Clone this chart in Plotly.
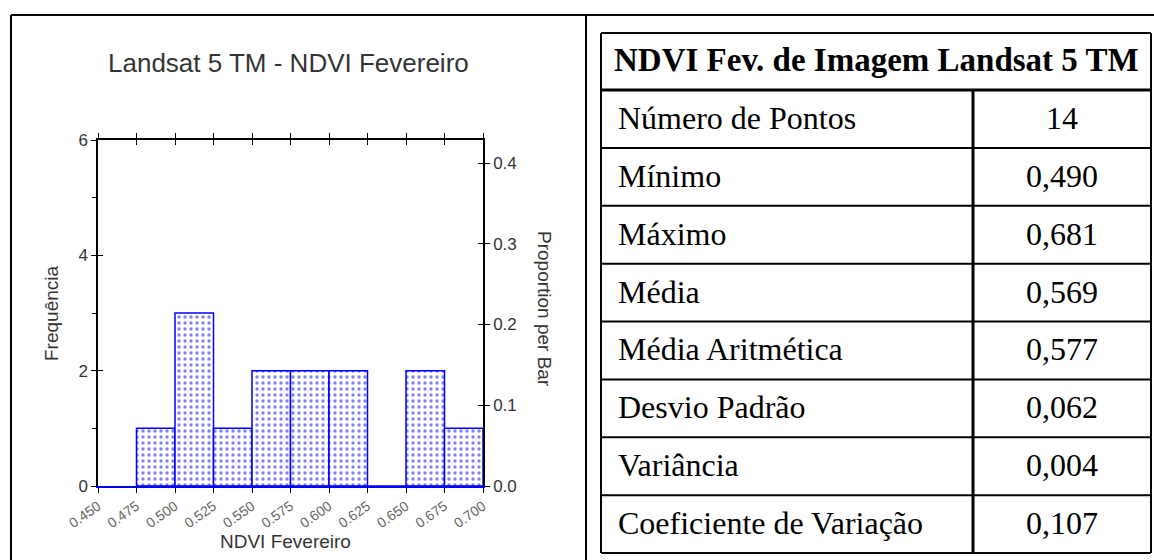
import plotly.graph_objects as go

# histogram data (NDVI Fevereiro, Landsat 5 TM)
bin_starts = [0.475, 0.500, 0.525, 0.550, 0.575, 0.600, 0.625, 0.650, 0.675]
counts = [1, 3, 1, 2, 2, 2, 0, 2, 1]
bin_width = 0.025
n_points = 14

x_ticks = [0.450, 0.475, 0.500, 0.525, 0.550, 0.575, 0.600, 0.625, 0.650, 0.675, 0.700]
x_ticklabels = ["0.450", "0.475", "0.500", "0.525", "0.550", "0.575", "0.600", "0.625", "0.650", "0.675", "0.700"]
y_ticks = [0, 2, 4, 6]
y_minor = [1, 3, 5]
prop_ticks = [0.0, 0.1, 0.2, 0.3, 0.4]
prop_ticklabels = ["0.0", "0.1", "0.2", "0.3", "0.4"]

# statistics table
table_title = "NDVI Fev. de Imagem Landsat 5 TM"
stat_names = ["Número de Pontos", "Mínimo", "Máximo", "Média", "Média Aritmética",
              "Desvio Padrão", "Variância", "Coeficiente de Variação"]
stat_values = ["14", "0,490", "0,681", "0,569", "0,577", "0,062", "0,004", "0,107"]

W, H = 1154, 560


def px(x):
    return x / W


def py(y):
    return 1 - y / H


centers = [b + bin_width / 2 for b in bin_starts]

fig = go.Figure()
fig.add_trace(go.Bar(
    x=centers, y=counts, width=bin_width,
    marker=dict(color="white", line=dict(color="#0000ff", width=1.5),
                pattern=dict(shape=".", fgcolor="#0000ff", bgcolor="white", size=6, solidity=0.25)),
    xaxis="x", yaxis="y", showlegend=False, hoverinfo="x+y",
))
# empty traces so the overlaid frame / tick axes get drawn
for xa, ya in [("x2", "y2"), ("x3", "y3"), ("x", "y4")]:
    fig.add_trace(go.Scatter(x=[], y=[], xaxis=xa, yaxis=ya, showlegend=False, hoverinfo="skip"))

sans = "Liberation Sans, Arial"
x_dom = [px(98), px(483)]
y_dom = [py(486), py(140)]
x_range = [0.45, 0.70]
prop_max = 6 / n_points

common = dict(showgrid=False, zeroline=False, automargin=False, fixedrange=True)

fig.update_layout(
    width=W, height=H,
    margin=dict(l=0, r=0, t=0, b=0, autoexpand=False),
    paper_bgcolor="white", plot_bgcolor="white",
    showlegend=False,
    xaxis=dict(domain=x_dom, range=x_range, anchor="y",
               tickvals=x_ticks, ticktext=x_ticklabels, tickangle=-35,
               ticks="outside", ticklen=5, tickcolor="black",
               showline=True, linecolor="#0000ff", linewidth=1.5,
               tickfont=dict(family=sans, size=14, color="#666"), **common),
    xaxis2=dict(overlaying="x", side="top", anchor="y", range=x_range,
                tickvals=x_ticks, ticks="outside", ticklen=5, tickcolor="black",
                showticklabels=False, showline=True, linecolor="black", linewidth=1.5, **common),
    xaxis3=dict(overlaying="x", side="top", anchor="y", range=x_range,
                tickvals=x_ticks, ticks="inside", ticklen=5, tickcolor="black",
                showticklabels=False, showline=False, **common),
    yaxis=dict(domain=y_dom, range=[0, 6], anchor="x", side="left",
               tickvals=y_ticks, ticks="outside", ticklen=5, tickcolor="black",
               minor=dict(tickvals=y_minor, ticks="outside", ticklen=4, tickcolor="black"),
               showline=True, linecolor="black", linewidth=1.5,
               tickfont=dict(family=sans, size=17, color="#333"), **common),
    yaxis3=dict(overlaying="y", side="left", anchor="x", range=[0, 6],
                tickvals=y_ticks, ticks="inside", ticklen=5, tickcolor="black",
                showticklabels=False, showline=False, **common),
    yaxis2=dict(overlaying="y", side="right", anchor="x", range=[0, prop_max],
                tickvals=prop_ticks, ticktext=prop_ticklabels,
                ticks="outside", ticklen=5, tickcolor="black",
                showline=True, linecolor="black", linewidth=1.5,
                tickfont=dict(family=sans, size=17, color="#333"), **common),
    yaxis4=dict(overlaying="y", side="right", anchor="x", range=[0, prop_max],
                tickvals=prop_ticks, ticks="inside", ticklen=5, tickcolor="black",
                showticklabels=False, showline=False, **common),
)

chart_font = dict(family=sans, color="#333")
annotations = [
    dict(text="Landsat 5 TM - NDVI Fevereiro", x=px(288), y=py(63),
         font=dict(size=26, **chart_font)),
    dict(text="NDVI Fevereiro", x=px(285), y=py(541), font=dict(size=19, **chart_font)),
    dict(text="Frequência", x=px(51), y=py(314), textangle=-90, font=dict(size=19, **chart_font)),
    dict(text="Proportion per Bar", x=px(545), y=py(309), textangle=90, font=dict(size=19, **chart_font)),
]

# table geometry
t_left, t_right, t_mid = 601, 1151, 973
t_top, head_bot, t_bot = 33, 90, 553
row_h = (t_bot - head_bot) / len(stat_names)
serif = "Liberation Serif, Times New Roman"

annotations.append(dict(text="<b>" + table_title + "</b>", x=px((t_left + t_right) / 2),
                        y=py((t_top + head_bot) / 2 - 1),
                        font=dict(family=serif, size=33, color="black")))
for i, (name, val) in enumerate(zip(stat_names, stat_values)):
    yc = head_bot + row_h * (i + 0.5) - 1
    annotations.append(dict(text=name, x=px(t_left + 15), y=py(yc), xanchor="left",
                            font=dict(family=serif, size=32, color="black")))
    annotations.append(dict(text=val, x=px((t_mid + t_right) / 2), y=py(yc),
                            font=dict(family=serif, size=32, color="black")))

for a in annotations:
    a.update(xref="paper", yref="paper", showarrow=False)
    a.setdefault("xanchor", "center")
    a.setdefault("yanchor", "middle")
fig.update_layout(annotations=annotations)


def line(x0, y0, x1, y1, w=2):
    return dict(type="line", xref="paper", yref="paper",
                x0=px(x0), y0=py(y0), x1=px(x1), y1=py(y1),
                line=dict(color="black", width=w))


shapes = [
    line(11, 15, W, 15),
    line(11, 15, 11, H + 5),
    line(586, 15, 586, H + 5),
    line(t_left, t_top, t_right, t_top),
    line(t_left, t_top, t_left, t_bot),
    line(t_right, t_top, t_right, t_bot),
    line(t_left, head_bot, t_right, head_bot, 3),
    line(t_mid, head_bot, t_mid, t_bot, 3),
]
for i in range(1, len(stat_names) + 1):
    y = head_bot + row_h * i
    shapes.append(line(t_left, y, t_right, y, 2))
fig.update_layout(shapes=shapes)

fig.write_html("out.html", config={"displayModeBar": False},
               post_script="document.body.style.margin='0';")
